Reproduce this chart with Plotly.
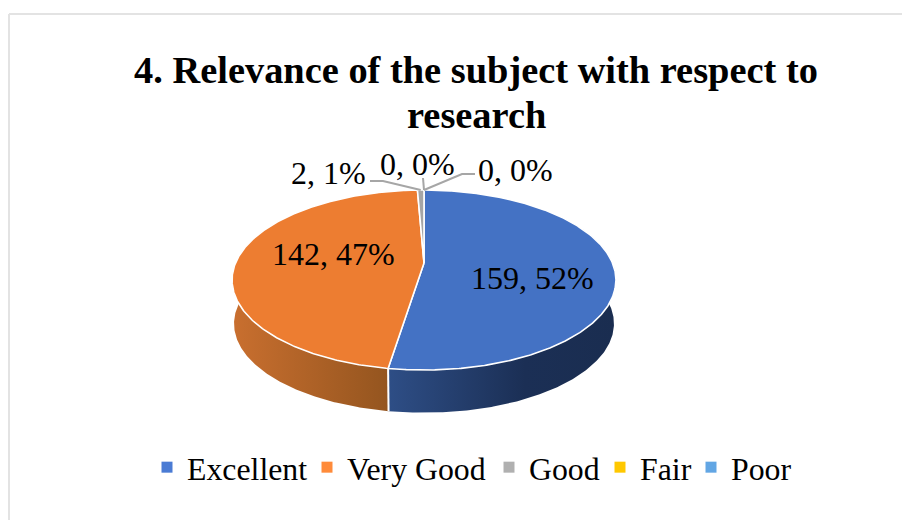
"""
Relevance of the subject - tilted 3D style pie, built from filled scatter traces
"""

import numpy as np
import plotly.graph_objects as go

categories = ["Excellent", "Very Good", "Good", "Fair", "Poor"]
counts = [159, 142, 2, 0, 0]
top_colors = ["#4472C4", "#ED7D31", "#A5A5A5", "#FFC000", "#5B9BD5"]
legend_colors = ["#4A7BD4", "#FF8B3A", "#B0B0B0", "#FFC800", "#62A6E4"]

FONT = "Liberation Serif"

# 投影参数 (pixels, the axes run 0-902 / 520-0)
CX, CY = 424, 263
A, B, K = 188.5, 86.8, 0.189
RIM_DROP, RIM_SCALE = 44, 0.99


def project(theta, scale=1.0, drop=0.0):
    """theta in degrees, clockwise from 12 o'clock"""
    rad = np.radians(theta)
    u, v = np.sin(rad) * scale, np.cos(rad) * scale
    den = 1 + K * v
    return CX + A * u / den, CY + drop - B * v / den


def arc(start, end, scale=1.0, drop=0.0):
    n = max(int(abs(end - start) * 2), 2)
    return project(np.linspace(start, end, n), scale, drop)


total = sum(counts)
edges = np.concatenate([[0], np.cumsum(counts) / total * 360])

fig = go.Figure()

# 侧面 (the arcs run on past the sides, the top face hides the overlap)
rim_parts = [
    (60, edges[1], [[0, "#2E4E86"], [0.6, "#1B2F55"], [1, "#1A2D50"]]),
    (edges[1], 300, [[0, "#C96F2F"], [1, "#94551F"]]),
]
for start, end, scale in rim_parts:
    xt, yt = arc(start, end)
    xb, yb = arc(end, start, RIM_SCALE, RIM_DROP)
    fig.add_trace(go.Scatter(
        x=np.concatenate([xt, xb]), y=np.concatenate([yt, yb]),
        mode="lines", fill="toself",
        fillgradient=dict(type="horizontal", colorscale=scale),
        line=dict(color="rgba(0,0,0,0)", width=0),
        hoverinfo="skip", showlegend=False,
    ))

# 前面的分界线
xd, yd = project(np.array([edges[1], edges[1]]), np.array([1.0, RIM_SCALE]), np.array([0.0, RIM_DROP]))
fig.add_trace(go.Scatter(x=xd, y=yd, mode="lines", line=dict(color="white", width=2),
                         hoverinfo="skip", showlegend=False))

# 顶面
for i, name in enumerate(categories):
    if counts[i] == 0:
        continue
    xa, ya = arc(edges[i], edges[i + 1])
    fig.add_trace(go.Scatter(
        x=np.concatenate([[CX], xa, [CX]]), y=np.concatenate([[CY], ya, [CY]]),
        mode="lines", fill="toself", fillcolor=top_colors[i],
        line=dict(color="white", width=1.6),
        name=name, hoverinfo="name", showlegend=False,
    ))

# 图例: one legend per entry, the reference spaces them tighter than a single legend can
legend_left = [147, 307, 489, 600, 691]
legend_layout = {}
for i, (name, color) in enumerate(zip(categories, legend_colors)):
    key = "legend" if i == 0 else f"legend{i + 1}"
    fig.add_trace(go.Scatter(
        x=[None], y=[None], mode="markers", name=name, legend=key, showlegend=True,
        marker=dict(symbol="square", size=11, color=color),
    ))
    legend_layout[key] = dict(
        x=legend_left[i] / 902, xanchor="left", y=1 - 440 / 520, yanchor="top",
        font=dict(family=FONT, size=31.8, color="black"),
        itemwidth=30, bgcolor="rgba(0,0,0,0)",
    )

# 引线
leader_bends = [
    ([370, 383], [181, 181], 2),
    ([423], [178], 3),
    ([475, 462], [174, 174], 4),
]
for xs, ys, idx in leader_bends:
    ax, ay = project(np.array([(edges[idx] + edges[idx + 1]) / 2]))
    fig.add_trace(go.Scatter(
        x=xs + [float(ax[0])], y=ys + [float(ay[0])], mode="lines",
        line=dict(color="#A6A6A6", width=2), hoverinfo="skip", showlegend=False,
    ))

# 数据标签
label_x = [532, 333, 328, 417, 515]
label_y = [278, 254, 173, 164, 170]
for i, v in enumerate(counts):
    fig.add_annotation(
        x=label_x[i], y=label_y[i], text=f"{v}, {round(v / total * 100)}%",
        showarrow=False, font=dict(family=FONT, size=32, color="black"),
    )

# 标题第二行 (line gap is tighter than a <br> gives)
fig.add_annotation(x=476, y=115, text="<b>research</b>", showarrow=False,
                   font=dict(family=FONT, size=38.4, color="black"))

fig.update_layout(
    width=902, height=520,
    margin=dict(l=0, r=0, t=0, b=0),
    paper_bgcolor="white", plot_bgcolor="white",
    title=dict(
        text="<b>4. Relevance of the subject with respect to</b>",
        font=dict(family=FONT, size=38.4, color="black"),
        x=476 / 902, xanchor="center", y=1 - 70 / 520, yanchor="middle",
    ),
    xaxis=dict(range=[0, 902], visible=False, fixedrange=True),
    yaxis=dict(range=[520, 0], visible=False, fixedrange=True),
    shapes=[
        dict(type="line", x0=9, x1=902, y0=14, y1=14, line=dict(color="#E3E3E3", width=2)),
        dict(type="line", x0=9, x1=9, y0=14, y1=520, line=dict(color="#E3E3E3", width=2)),
    ],
    **legend_layout,
)

fig.write_html("out.html", config=dict(displayModeBar=False),
               post_script="document.body.style.margin='0';document.body.style.overflow='hidden';")
